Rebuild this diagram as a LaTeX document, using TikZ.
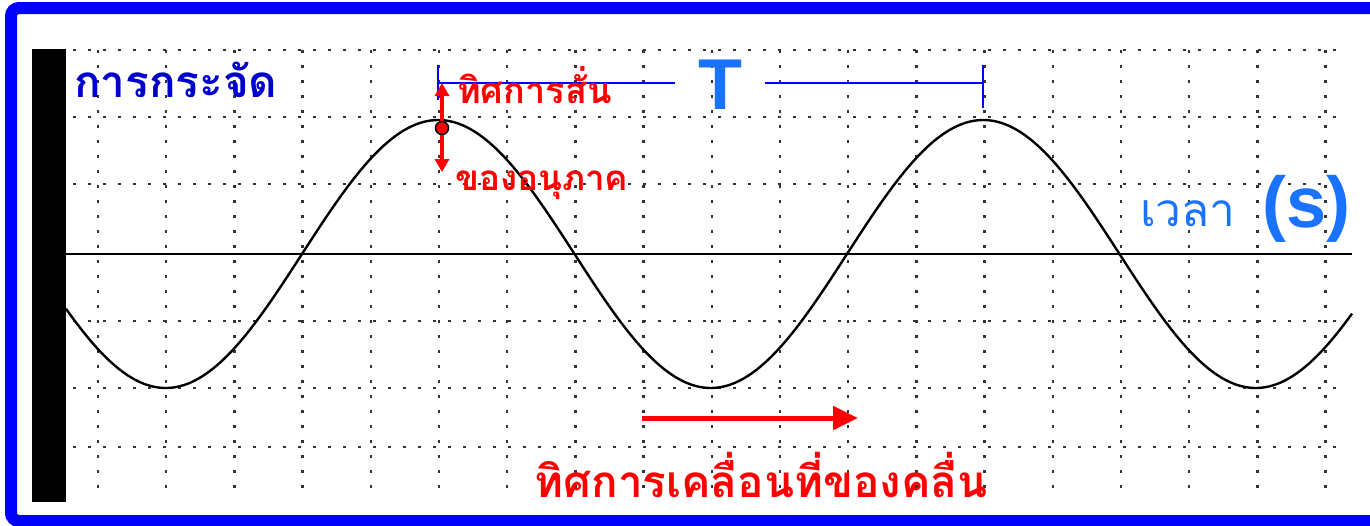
\documentclass[tikz,border=0pt]{standalone}
\usepackage{fontspec}
\setsansfont{Liberation Sans}
\newfontfamily\thaifont[Script=Thai]{Loma}
\usetikzlibrary{arrows.meta,calc}
\definecolor{c1}{RGB}{0,0,255}
\definecolor{c2}{RGB}{0,0,205}
\definecolor{c3}{RGB}{25,115,255}
\definecolor{c4}{RGB}{255,0,0}

\begin{document}
\begin{tikzpicture}[x=1pt,y=-1pt,
  gridline/.style={draw=black!80,line width=2.5pt,dash pattern=on 2.5pt off 12.5pt},
  thai/.style={inner sep=0pt}]
  \useasboundingbox (0,0) rectangle (1370,525);
  % frame
  \draw[c1,line width=12pt,rounded corners=8pt] (1375,8) -- (11,8) -- (11,521) -- (1375,521);
  % grid
  \foreach \y in {50,117,184,321,388,447}
    \draw[gridline] (73,\y) -- (1342,\y);
  \foreach \k in {0,...,18}
    \draw[gridline] ({98+68.2*\k},50) -- ({98+68.2*\k},493);
  % wall and time axis
  \fill[black] (32,49) rectangle (66,502);
  \draw[black,line width=2.2pt] (66,254) -- (1352,254);
  \draw[black,line width=2.4pt,domain=66:1352,samples=240,smooth]
    plot (\x,{254-134*sin(0.66055*(\x-302))});
  % labels
  \node[thai,text=c2,anchor=base west,font=\thaifont\bfseries\fontsize{44}{50}\selectfont]
    (disp) at (74,97) {การกระจัด};
  \node[thai,text=c3,anchor=base west,font=\thaifont\fontsize{46}{52}\selectfont]
    (time) at (1140,226) {เวลา};
  \node[inner sep=0pt,text=c3,anchor=base west,font=\sffamily\bfseries\fontsize{72}{80}\selectfont]
    (unit) at (1262,227) {(s)};
  % period
  \node[inner sep=0pt,minimum width=90pt,text=c3,font=\sffamily\bfseries\fontsize{72}{80}\selectfont]
    (period) at (720,85) {T};
  \coordinate (tl) at (438,83);
  \coordinate (tr) at (983,83);
  \draw[c1,line width=2.5pt] (438,65) -- (438,100);
  \draw[c1,line width=2.5pt] (983,65) -- (983,108);
  \draw[c1,line width=2.5pt] (tl) -- (tl -| period.west);
  \draw[c1,line width=2.5pt] (period.east |- tr) -- (tr);
  % particle
  \coordinate (pu) at (442,83);
  \coordinate (pd) at (442,172);
  \draw[c4,line width=4.5pt,{Triangle[length=13pt,width=14pt]}-{Triangle[length=13pt,width=14pt]}] (pu) -- (pd);
  \node[circle,fill=c4,draw=black,line width=1.5pt,minimum size=13pt,inner sep=0pt] (particle) at (442,128) {};
  \node[thai,text=c4,anchor=base west,font=\thaifont\bfseries\fontsize{36}{40}\selectfont]
    (vib1) at (457,103) {ทิศการสั่น};
  \node[thai,text=c4,anchor=base west,font=\thaifont\bfseries\fontsize{35}{40}\selectfont]
    (vib2) at (455,190) {ของอนุภาค};
  % wave direction
  \coordinate (w1) at (642,418);
  \coordinate (w2) at (858,418);
  \draw[c4,line width=5pt,-{Triangle[length=25pt,width=23pt]}] (w1) -- (w2);
  \node[thai,text=c4,anchor=base,font=\thaifont\bfseries\fontsize{44}{50}\selectfont]
    (wavedir) at (761,497) {ทิศการเคลื่อนที่ของคลื่น};
\end{tikzpicture}
\end{document}
